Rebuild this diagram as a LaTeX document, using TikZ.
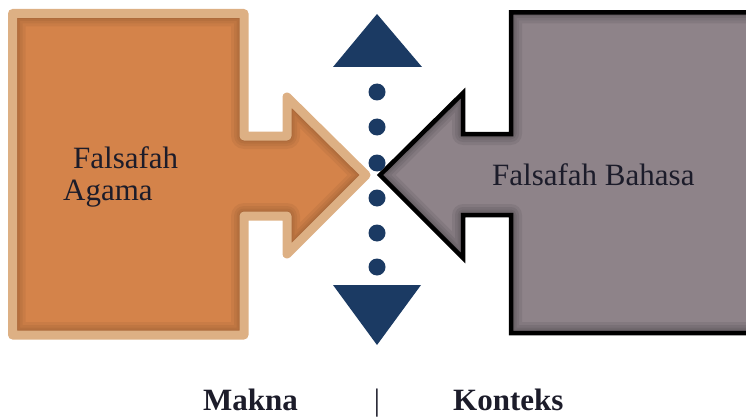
\documentclass[tikz,border=0pt]{standalone}
\usepackage{fontspec}
\setmainfont{Liberation Serif}
\definecolor{orangefill}{HTML}{D4834A}
\definecolor{tanborder}{HTML}{DDB084}
\definecolor{greyfill}{HTML}{8E8389}
\definecolor{navy}{HTML}{1B3A63}
\definecolor{textc}{HTML}{1C1C2A}
\def\leftshape{(12.5,13.5) -- (244,13.5) -- (244,136) -- (287,136) -- (287,97) -- (366,175) -- (287,254) -- (287,216) -- (244,216) -- (244,335) -- (12.5,335) -- cycle}
\def\rightshape{(511,12.5) -- (760,12.5) -- (760,333) -- (511,333) -- (511,215) -- (463,215) -- (463,258) -- (380,175) -- (463,93) -- (463,134) -- (511,134) -- cycle}
\begin{document}
\begin{tikzpicture}[x=1pt,y=-1pt,
  txt/.style={font=\fontsize{31}{36}\selectfont, text=textc, inner sep=0pt},
  btxt/.style={font=\fontsize{31}{36}\selectfont\bfseries, text=textc, inner sep=0pt},
  marker/.style={fill=navy},
  tri/.style={fill=navy},
  glow/.style={line join=round, opacity=0.07}]
\useasboundingbox (0,0) rectangle (746,417);
\clip (0,0) rectangle (746,417);
% left shape
\fill[orangefill] \leftshape;
\begin{scope}
  \clip \leftshape;
  \foreach \w in {26,20,15,11,8}
    \draw[glow, line width=\w pt, draw=black!70!orangefill] \leftshape;
\end{scope}
\draw[tanborder, line width=9pt, line join=round] \leftshape;
% right shape
\fill[greyfill] \rightshape;
\begin{scope}
  \clip \rightshape;
  \foreach \w in {22,16,11,7}
    \draw[glow, line width=\w pt, draw=black] \rightshape;
\end{scope}
\draw[black, line width=4.5pt, line join=miter] \rightshape;
% triangles
\fill[tri] (333,67) -- (377,14) -- (422,67) -- cycle;
\fill[tri] (333,285) -- (421,285) -- (377,345) -- cycle;
% dots
\foreach \yy in {92,127,163,198,233,267}
  \fill[marker] (377,\yy) circle (8.5);
% texts
\node[txt, anchor=base west] (fa1) at (73,168) {Falsafah};
\node[txt, anchor=base west] (fa2) at (63,200) {Agama};
\node[txt, anchor=base west] (fb) at (492,185) {Falsafah Bahasa};
\node[btxt, anchor=base west] (makna) at (203,410) {Makna};
\node[txt, anchor=base] (sep) at (377,410) {|};
\node[btxt, anchor=base west] (konteks) at (453,410) {Konteks};
\end{tikzpicture}
\end{document}
